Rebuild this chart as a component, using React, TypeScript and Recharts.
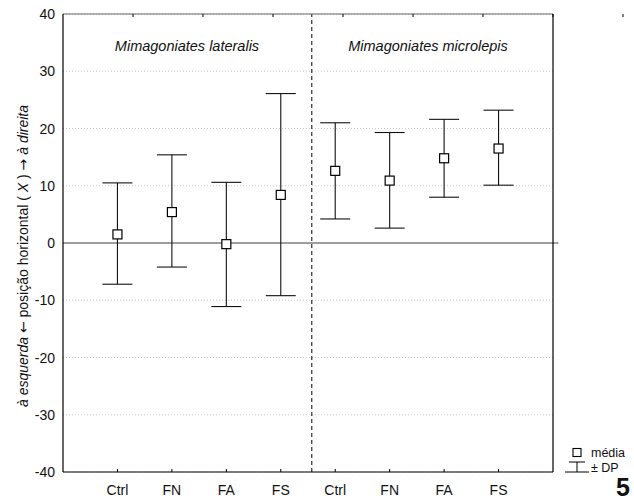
import React from 'react';
import {
  ComposedChart, Scatter, XAxis, YAxis, CartesianGrid, ReferenceLine, ErrorBar,
} from 'recharts';

const categories = ['Ctrl', 'FN', 'FA', 'FS', 'Ctrl', 'FN', 'FA', 'FS'];
const groups = ['Mimagoniates lateralis', 'Mimagoniates microlepis'];
const means = [1.5, 5.4, -0.2, 8.4, 12.6, 10.9, 14.8, 16.5];
const upper = [10.5, 15.4, 10.6, 26.1, 21.0, 19.3, 21.6, 23.2];
const lower = [-7.2, -4.2, -11.1, -9.2, 4.2, 2.6, 8.0, 10.1];
const yTicks = [-40, -30, -20, -10, 0, 10, 20, 30, 40];
const xPositions = [1, 2, 3, 4, 5, 6, 7, 8];
const groupDivider = 4.57;

const data = categories.map((c, i) => ({
  x: xPositions[i],
  name: c,
  mean: means[i],
  err: [means[i] - lower[i], upper[i] - means[i]],
}));

const FONT = 'Liberation Sans, Arial, sans-serif';
const ARROW_FONT = 'DejaVu Sans, sans-serif';

const BottomTick = (props: any) => {
  const { x, y, payload } = props;
  const idx = xPositions.indexOf(payload.value);
  return (
    <g>
      <line x1={x} y1={y} x2={x} y2={y - 3} stroke="#000" strokeWidth={1} />
      <text x={x} y={y + 23} textAnchor="middle" fontSize={14} fontFamily={FONT} fill="#111">
        {idx >= 0 ? categories[idx] : ''}
      </text>
    </g>
  );
};

const TopTick = (props: any) => {
  const { x, y } = props;
  return <line x1={x} y1={y} x2={x} y2={y + 3} stroke="#000" strokeWidth={1} />;
};

const LeftTick = (props: any) => {
  const { x, y, payload } = props;
  return (
    <text x={x - 8} y={y + 5} textAnchor="end" fontSize={14} fontFamily={FONT} fill="#111">
      {payload.value}
    </text>
  );
};

const RightTick = (props: any) => {
  const { x, y } = props;
  return <line x1={x} y1={y} x2={x - 4} y2={y} stroke="#000" strokeWidth={1} />;
};

const Square = (props: any) => {
  const { cx, cy } = props;
  if (cx == null || cy == null) return null;
  return <rect x={cx - 4.5} y={cy - 4.5} width={9} height={9} fill="#fff" stroke="#000" strokeWidth={1.2} />;
};

export default function App() {
  return (
    <div style={{ position: 'absolute', left: 0, top: 0, width: 634, height: 502, background: '#fff' }}>
      <ComposedChart
        width={634}
        height={502}
        data={data}
        margin={{ top: 13, right: 80, bottom: 0, left: 0 }}
      >
        <CartesianGrid
          vertical={false}
          stroke="#c8c8c8"
          strokeDasharray="1 2"
        />
        <XAxis
          type="number"
          dataKey="x"
          domain={[0, 9]}
          ticks={xPositions}
          allowDataOverflow
          height={30}
          tickSize={0}
          tickMargin={0}
          tick={<BottomTick />}
          axisLine={{ stroke: '#000', strokeWidth: 1.2 }}
          tickLine={false}
          interval={0}
        />
        <XAxis
          xAxisId="top"
          orientation="top"
          type="number"
          domain={[0, 9]}
          ticks={xPositions}
          height={1}
          tickSize={0}
          tickMargin={0}
          tick={<TopTick />}
          axisLine={{ stroke: '#666', strokeWidth: 1.2 }}
          tickLine={false}
          interval={0}
        />
        <YAxis
          type="number"
          domain={[-40, 40]}
          ticks={yTicks}
          width={63}
          tickSize={0}
          tickMargin={0}
          tick={<LeftTick />}
          axisLine={{ stroke: '#000', strokeWidth: 1.2 }}
          tickLine={false}
          interval={0}
        />
        <YAxis
          yAxisId="right"
          orientation="right"
          type="number"
          domain={[-40, 40]}
          ticks={yTicks}
          width={1}
          tickSize={0}
          tickMargin={0}
          tick={<RightTick />}
          axisLine={{ stroke: '#000', strokeWidth: 1.2 }}
          tickLine={false}
          interval={0}
        />
        <ReferenceLine
          x={groupDivider}
          stroke="#000"
          strokeWidth={1}
          strokeDasharray="4 3"
        />
        <ReferenceLine
          segment={[{ x: 0, y: 0 }, { x: 9.1, y: 0 }]}
          ifOverflow="visible"
          stroke="#808080"
          strokeWidth={1.5}
        />
        <Scatter
          dataKey="mean"
          isAnimationActive={false}
          shape={<Square />}
        >
          <ErrorBar
            dataKey="err"
            direction="y"
            width={15}
            stroke="#111"
            strokeWidth={1.1}
            isAnimationActive={false}
          />
        </Scatter>
      </ComposedChart>
      <svg
        width={634}
        height={502}
        style={{ position: 'absolute', left: 0, top: 0, pointerEvents: 'none' }}
      >
        <text x={187} y={51} textAnchor="middle" fontSize={14.5} fontStyle="italic" fontFamily={FONT} fill="#111">
          {groups[0]}
        </text>
        <text x={428} y={51} textAnchor="middle" fontSize={14.5} fontStyle="italic" fontFamily={FONT} fill="#111">
          {groups[1]}
        </text>
        <text
          x={0}
          y={0}
          transform="translate(28,256) rotate(-90)"
          textAnchor="middle"
          fontSize={14}
          fontFamily={FONT}
          fill="#111"
        >
          <tspan fontStyle="italic">à esquerda</tspan>
          <tspan> </tspan>
          <tspan fontFamily={ARROW_FONT}>←</tspan>
          <tspan> posição horizontal ( </tspan>
          <tspan fontStyle="italic">X</tspan>
          <tspan> ) </tspan>
          <tspan fontFamily={ARROW_FONT}>→</tspan>
          <tspan> </tspan>
          <tspan fontStyle="italic">à direita</tspan>
        </text>
        <rect x={573} y={448.5} width={8} height={8} fill="#fff" stroke="#000" strokeWidth={1.1} />
        <text x={591} y={457} fontSize={12.5} fontFamily={FONT} fill="#111">média</text>
        <line x1={569} y1={462} x2={585} y2={462} stroke="#000" strokeWidth={1} />
        <line x1={577} y1={462} x2={577} y2={472} stroke="#000" strokeWidth={1} />
        <line x1={565} y1={472} x2={589} y2={472} stroke="#000" strokeWidth={1} />
        <text x={591} y={472} fontSize={12.5} fontFamily={FONT} fill="#111">± DP</text>
        <text x={616} y={496} fontSize={25} fontWeight="bold" fontFamily={FONT} fill="#111">5</text>
      </svg>
    </div>
  );
}
